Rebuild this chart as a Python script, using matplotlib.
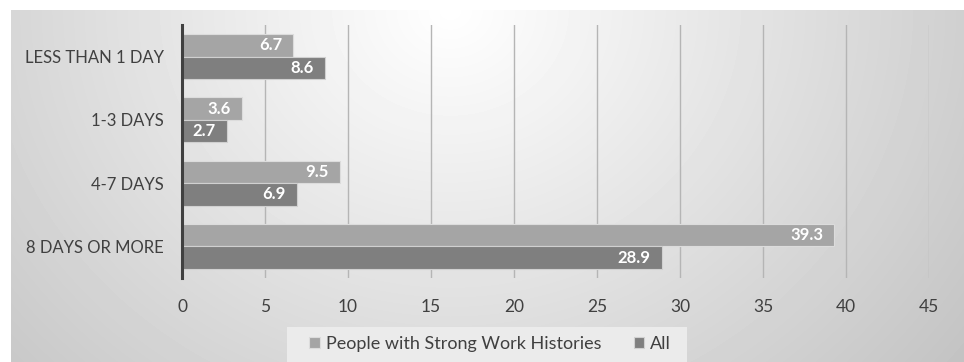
import numpy as np
import matplotlib
matplotlib.use("Agg")
import matplotlib.pyplot as plt
from matplotlib.patches import Rectangle

plt.rcParams['font.family'] = ['Lato', 'DejaVu Sans']

categories = ["LESS THAN 1 DAY", "1-3 DAYS", "4-7 DAYS", "8 DAYS OR MORE"]
strong_work = [6.7, 3.6, 9.5, 39.3]
all_people = [8.6, 2.7, 6.9, 28.9]
series_names = ["People with Strong Work Histories", "All"]
x_ticks = [0, 5, 10, 15, 20, 25, 30, 35, 40, 45]

W, H = 964, 362
fig = plt.figure(figsize=(W / 100, H / 100), dpi=100)
fig.patch.set_facecolor("white")

# soft radial gradient panel behind the chart
bg = fig.add_axes([11 / W, 0, 1 - 11 / W, 1 - 10 / H], zorder=-10)
yy, xx = np.mgrid[10:H, 11:W]
r = np.sqrt(((xx - 450) / 540.0) ** 2 + ((yy - 10) / 480.0) ** 2)
val = np.clip(255 - 50 * r, 0, 255) / 255.0
bg.imshow(val, cmap="gray", vmin=0, vmax=1, aspect="auto",
          extent=[0, 1, 0, 1], interpolation="bilinear")
bg.set_axis_off()

# legend backdrop
fig.patches.append(Rectangle((287 / W, 0), 400 / W, 35 / H,
                             transform=fig.transFigure, facecolor="#ebebeb",
                             edgecolor="none", zorder=-5))

ax = fig.add_axes([182 / W, 1 - 278 / H, (929 - 182) / W, (278 - 25) / H])
ax.patch.set_alpha(0)

y = np.arange(len(categories))
h = 0.355
light = "#a5a5a5"
dark = "#7f7f7f"
b1 = ax.barh(y - h / 2, strong_work, height=h, color=light,
             edgecolor="#dcdcdc", linewidth=0.8, label=series_names[0], zorder=3)
b2 = ax.barh(y + h / 2, all_people, height=h, color=dark,
             edgecolor="#d0d0d0", linewidth=0.8, label=series_names[1], zorder=3)

for bars, vals in ((b1, strong_work), (b2, all_people)):
    for bar, v in zip(bars, vals):
        ax.annotate(f"{v:.1f}", (v, bar.get_y() + bar.get_height() / 2),
                    xytext=(-8, 0), textcoords="offset points",
                    ha="right", va="center", color="white",
                    fontsize=12, fontweight="bold", zorder=4)

ax.set_xlim(0, 45)
ax.set_ylim(len(categories) - 0.5, -0.5)
ax.set_xticks(x_ticks)
ax.set_xticklabels([str(t) for t in x_ticks])
ax.set_yticks(y)
ax.set_yticklabels(categories)
ax.grid(axis="x", color="#b5b5b5", linewidth=1.0, zorder=0)
ax.tick_params(axis="x", length=0, pad=15, labelsize=12.5, labelcolor="#404040")
ax.tick_params(axis="y", length=0, pad=13, labelsize=12, labelcolor="#404040")
for s in ("top", "right", "bottom"):
    ax.spines[s].set_visible(False)
ax.spines["left"].set_color("#404040")
ax.spines["left"].set_linewidth(2.2)
ax.spines["left"].set_zorder(5)

fig.legend(handles=[b1, b2], labels=series_names, loc="center",
           bbox_to_anchor=(490 / W, 1 - 344 / H), ncol=2, frameon=False,
           fontsize=13, handlelength=0.6, handleheight=0.6,
           handletextpad=0.3, columnspacing=1.8, labelcolor="#404040")

fig.savefig("out.png", dpi=100)
